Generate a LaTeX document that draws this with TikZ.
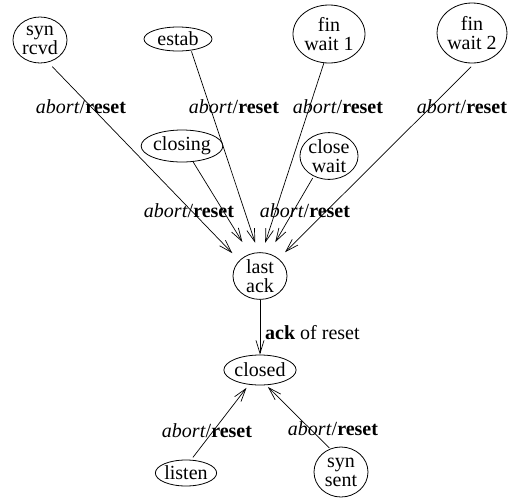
\documentclass[tikz,border=0pt]{standalone}
\usepackage{fontspec}
\setmainfont{Liberation Serif}
\usetikzlibrary{shapes.geometric,arrows.meta}
\begin{document}
\begin{tikzpicture}[x=1pt,y=-1pt,
  every node/.style={font=\fontsize{20}{19}\selectfont},
  state/.style={draw, ellipse, line width=0.8pt, inner sep=0pt, align=center},
  lbl/.style={anchor=base, inner sep=0pt},
  arr/.style={line width=0.7pt, -{Straight Barb[length=13pt,width=8pt]}}]
\useasboundingbox (0,0) rectangle (512,499);

% states
\node[state, minimum width=54pt, minimum height=46pt] (synrcvd)   at (40,40)   {syn\\rcvd};
\node[state, minimum width=68pt, minimum height=24pt] (estab)     at (178,39)  {estab};
\node[state, minimum width=80pt, minimum height=32pt] (closing)   at (182,146) {closing};
\node[state, minimum width=72pt, minimum height=58pt] (finwait1)  at (329,34)  {fin\\wait 1};
\node[state, minimum width=62pt, minimum height=60pt] (finwait2)  at (472,33)  {fin\\wait 2};
\node[state, minimum width=54pt, minimum height=46pt] (closewait) at (329,156) {close\\wait};
\node[state, minimum width=54pt, minimum height=46pt] (lastack)   at (260,276) {last\\ack};
\node[state, minimum width=60pt, minimum height=30pt] (closed)    at (260,370) {closed};
\node[state, minimum width=60pt, minimum height=26pt] (listen)    at (186,473) {listen};
\node[state, minimum width=54pt, minimum height=50pt] (synsent)   at (341,472) {syn\\sent};

% transitions
\draw[arr, shorten <=6pt, shorten >=10pt] (synrcvd.-70)   -- (lastack.143);
\draw[arr, shorten <=1pt, shorten >=10pt] (estab.-41)     -- (lastack.94);
\draw[arr, shorten >=14pt]                (closing.-55)   -- (lastack.115);
\draw[arr, shorten >=10pt]                (finwait1.-100) -- (lastack.85);
\draw[arr, shorten <=2pt, shorten >=13pt] (closewait.-127) -- (lastack.69);
\draw[arr, shorten <=5pt, shorten >=9pt]  (finwait2.-85)  -- (lastack.43);
\draw[arr] (lastack) -- (closed);
\draw[arr, shorten <=3pt, shorten >=4pt]   (listen.69)   -- (closed.-127);
\draw[arr, shorten <=1pt, shorten >=2.5pt] (synsent.115) -- (closed.-68);

% transition labels
\node[lbl] (l1) at (81,113)  {\textit{abort}/\textbf{reset}};
\node[lbl] (l2) at (234,113) {\textit{abort}/\textbf{reset}};
\node[lbl] (l3) at (338,113) {\textit{abort}/\textbf{reset}};
\node[lbl] (l4) at (462,113) {\textit{abort}/\textbf{reset}};
\node[lbl] (l5) at (189,217) {\textit{abort}/\textbf{reset}};
\node[lbl] (l6) at (305,217) {\textit{abort}/\textbf{reset}};
\node[lbl, anchor=base west] (l7) at (265,339) {\textbf{ack} of reset};
\node[lbl] (l8) at (207,437) {\textit{abort}/\textbf{reset}};
\node[lbl] (l9) at (333,435) {\textit{abort}/\textbf{reset}};
\end{tikzpicture}
\end{document}
